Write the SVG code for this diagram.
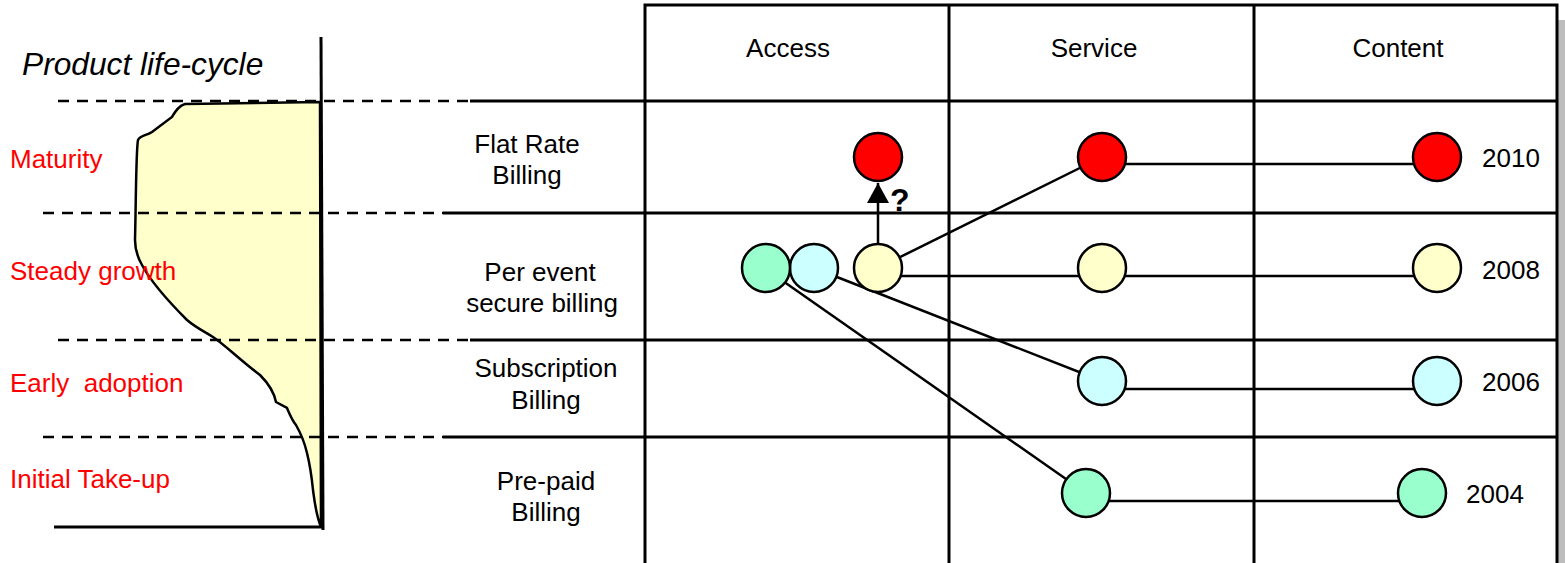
<svg xmlns="http://www.w3.org/2000/svg" width="1565" height="563" viewBox="0 0 1565 563">
<defs>
<style>
text{font-family:"Liberation Sans",Arial,sans-serif;font-size:26px;fill:#000}
.red{fill:#FF0000}
.mid{text-anchor:middle}
.grid{stroke:#000;stroke-width:3;fill:none}
.dash{stroke:#000;stroke-width:2.5;stroke-dasharray:11 8;fill:none}
.conn{stroke:#000;stroke-width:2.5;fill:none}
.node{stroke:#000;stroke-width:2.5}
.r{fill:#FF0000}.y{fill:#FFFFCC}.c{fill:#CCFFFF}.g{fill:#99FFCC}
</style>
<marker id="arr" viewBox="0 0 20 22" refX="20" refY="11" markerWidth="20" markerHeight="22" markerUnits="userSpaceOnUse" orient="auto">
<path d="M0,0 L20,11 L0,22 Z" fill="#000"/>
</marker>
</defs>
<rect width="1565" height="563" fill="#fff"/>
<rect x="1558" y="20" width="7" height="543" fill="#bdbdbd"/>
<g id="lifecycle">
<path d="M320,102 L185,104 C178,106 175,112 172,117 L152,132 C146,136 140,135 138,140 C136,150 136,200 135,240 C135,250 138,258 142,265 C150,280 165,298 187,320 C195,327 205,332 213,337 C225,345 240,360 260,375 C268,383 274,392 276,402 L287,408 C290,415 292,420 296,425 C300,432 304,440 307,453 C310,465 312,480 313,490 C315,505 316,515 321,527 Z" fill="#FFFFCC" stroke="#000" stroke-width="2.5"/>
<line x1="321" y1="37" x2="323" y2="530" class="grid"/>
<line x1="54" y1="527" x2="322" y2="527" class="grid"/>
<text x="22" y="75" font-style="italic" style="font-size:31.7px">Product life-cycle</text>
<text class="red" x="10" y="168">Maturity</text>
<text class="red" x="10" y="280">Steady growth</text>
<text class="red" x="10" y="392" xml:space="preserve">Early  adoption</text>
<text class="red" x="10" y="488">Initial Take-up</text>
</g>
<g id="table">
<rect x="645" y="5" width="912" height="570" class="grid"/>
<line x1="949" y1="5" x2="949" y2="563" class="grid"/>
<line x1="1254" y1="5" x2="1254" y2="563" class="grid"/>
<line x1="470" y1="101" x2="1557" y2="101" class="grid"/>
<line x1="443" y1="213" x2="1557" y2="213" class="grid"/>
<line x1="470" y1="340" x2="1557" y2="340" class="grid"/>
<line x1="443" y1="437" x2="1557" y2="437" class="grid"/>
<line x1="58" y1="101" x2="470" y2="101" class="dash"/>
<line x1="43" y1="213" x2="443" y2="213" class="dash"/>
<line x1="58" y1="340" x2="470" y2="340" class="dash"/>
<line x1="43" y1="437" x2="443" y2="437" class="dash"/>
<text class="mid" x="788" y="57">Access</text>
<text class="mid" x="1094" y="57">Service</text>
<text class="mid" x="1398" y="57">Content</text>
<text class="mid" x="527" y="153">Flat Rate</text>
<text class="mid" x="527" y="184">Billing</text>
<text class="mid" x="540" y="281">Per event</text>
<text class="mid" x="542" y="312">secure billing</text>
<text class="mid" x="546" y="377">Subscription</text>
<text class="mid" x="546" y="409">Billing</text>
<text class="mid" x="546" y="490">Pre-paid</text>
<text class="mid" x="546" y="521">Billing</text>
<text x="1482" y="167">2010</text>
<text x="1482" y="279">2008</text>
<text x="1482" y="391">2006</text>
<text x="1466" y="503">2004</text>
</g>
<g id="connectors">
<line x1="878" y1="268" x2="1102" y2="157" class="conn"/>
<line x1="878" y1="276" x2="1437" y2="276" class="conn"/>
<line x1="1102" y1="164" x2="1437" y2="164" class="conn"/>
<line x1="814" y1="268" x2="1102" y2="381" class="conn"/>
<line x1="1102" y1="389" x2="1437" y2="389" class="conn"/>
<line x1="770" y1="272" x2="1086" y2="493" class="conn"/>
<line x1="1086" y1="501" x2="1422" y2="501" class="conn"/>
<line x1="878" y1="244" x2="878" y2="183" class="conn" marker-end="url(#arr)"/>
<text x="890" y="211" font-weight="bold" style="font-size:32px">?</text>
</g>
<g id="access-red"><circle cx="878" cy="157" r="24" class="node r"/></g>
<g id="access-yellow"><circle cx="878" cy="268" r="24" class="node y"/></g>
<g id="access-cyan"><circle cx="814" cy="268" r="24" class="node c"/></g>
<g id="access-green"><circle cx="766" cy="268" r="24" class="node g"/></g>
<g id="service-red"><circle cx="1102" cy="157" r="24" class="node r"/></g>
<g id="service-yellow"><circle cx="1102" cy="268" r="24" class="node y"/></g>
<g id="service-cyan"><circle cx="1102" cy="381" r="24" class="node c"/></g>
<g id="service-green"><circle cx="1086" cy="493" r="24" class="node g"/></g>
<g id="content-red"><circle cx="1437" cy="157" r="24" class="node r"/></g>
<g id="content-yellow"><circle cx="1437" cy="268" r="24" class="node y"/></g>
<g id="content-cyan"><circle cx="1437" cy="381" r="24" class="node c"/></g>
<g id="content-green"><circle cx="1422" cy="493" r="24" class="node g"/></g>
</svg>
